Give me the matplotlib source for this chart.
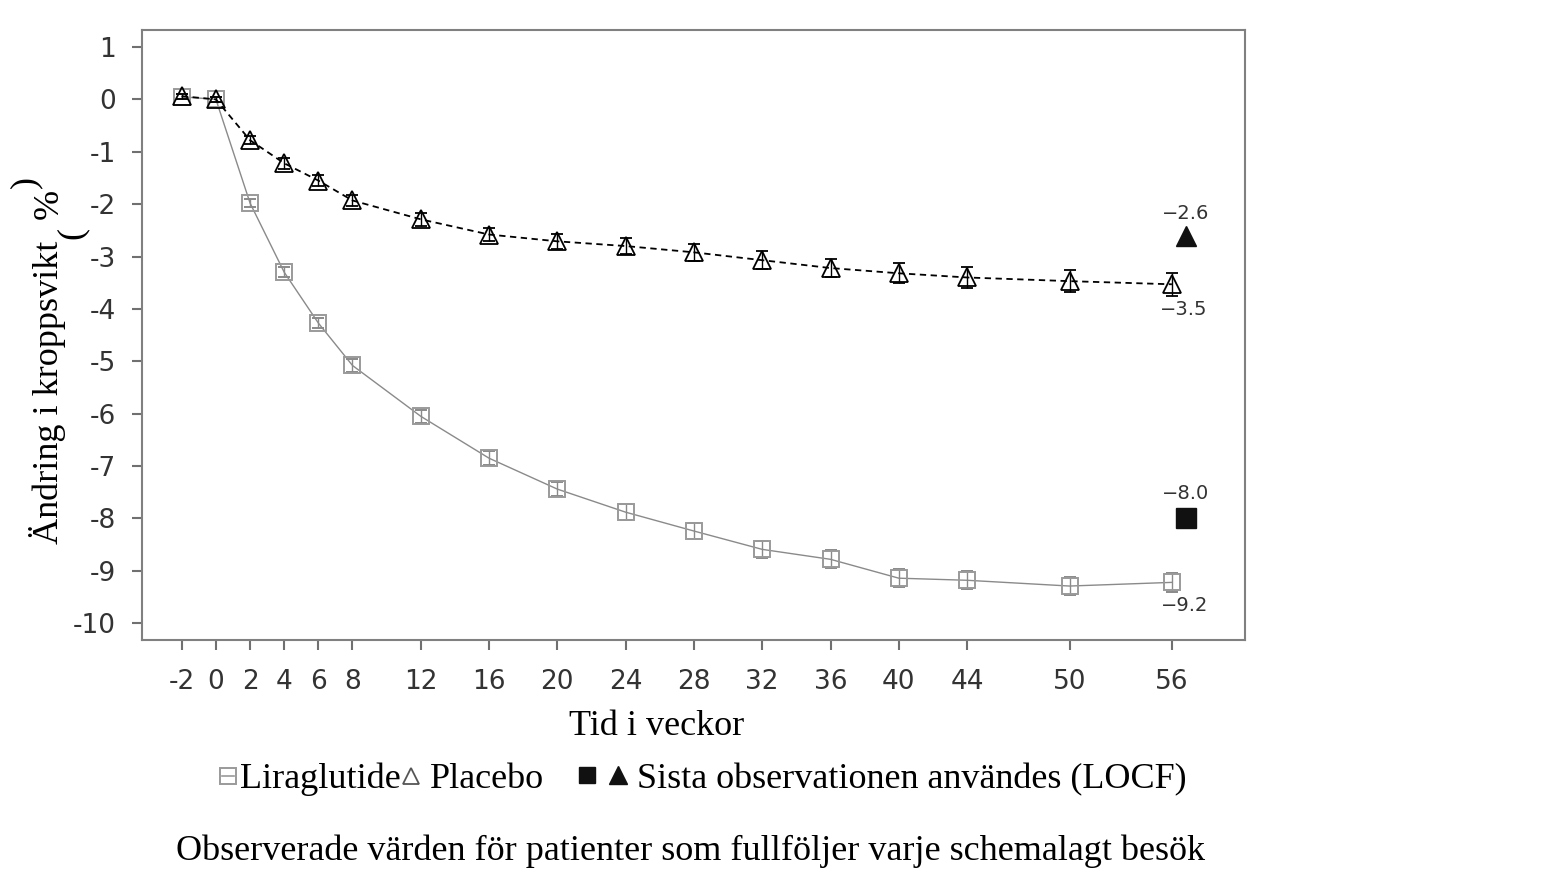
import matplotlib
matplotlib.use("Agg")
import matplotlib.pyplot as plt
from matplotlib.lines import Line2D

# ---------------- data ----------------
weeks = [-2, 0, 2, 4, 6, 8, 12, 16, 20, 24, 28, 32, 36, 40, 44, 50, 56]
tick_labels = ["-2", "0", "2", "4", "6", "8", "12", "16", "20", "24", "28",
               "32", "36", "40", "44", "50", "56"]
liraglutide = [0.05, 0.0, -1.98, -3.30, -4.27, -5.08, -6.05, -6.85, -7.44,
               -7.88, -8.24, -8.59, -8.78, -9.14, -9.18, -9.29, -9.22]
lira_err = [0.05, 0.05, 0.08, 0.10, 0.10, 0.12, 0.12, 0.13, 0.14, 0.15,
            0.15, 0.16, 0.17, 0.17, 0.17, 0.18, 0.18]
placebo = [0.06, 0.0, -0.78, -1.22, -1.55, -1.93, -2.29, -2.58, -2.71,
           -2.80, -2.92, -3.07, -3.22, -3.32, -3.40, -3.47, -3.53]
plac_err = [0.05, 0.05, 0.08, 0.10, 0.10, 0.11, 0.12, 0.13, 0.14, 0.15,
            0.16, 0.17, 0.18, 0.19, 0.20, 0.21, 0.22]
locf_week = 56.8
locf_lira = -8.0
locf_plac = -2.6
end_labels = {"lira_obs": "\u22129.2", "plac_obs": "\u22123.5",
              "lira_locf": "\u22128.0", "plac_locf": "\u22122.6"}
ytick_vals = list(range(1, -11, -1))
ytick_labels = [str(v) for v in ytick_vals]

# ---------------- figure ----------------
W, H = 1545, 893
fig = plt.figure(figsize=(W / 100, H / 100), dpi=100)
fig.patch.set_facecolor("white")


def P(x, y):
    return (x / W, 1 - y / H)


ax = fig.add_axes([142 / W, 1 - 640 / H, (1245 - 142) / W, (640 - 30) / H])
ax.set_xlim(-4.33, 60.28)
ax.set_ylim(-10.32, 1.324)

grey = "#9a9a9a"
ax.errorbar(weeks, liraglutide, yerr=lira_err, fmt="-", color="#8a8a8a", lw=1.0,
            marker="s", ms=12, mfc="none", mec=grey, mew=1.4,
            ecolor="#8a8a8a", elinewidth=1.0, capsize=4, capthick=1.0, zorder=3)
ax.errorbar(weeks, placebo, yerr=plac_err, fmt="-", color="black", lw=1.3,
            linestyle=(0, (3.5, 2.5)), marker="^", ms=13, mfc="none",
            mec="black", mew=1.3, ecolor="black", elinewidth=1.0, capsize=4,
            capthick=1.0, zorder=4)
ax.plot([locf_week], [locf_lira], marker="s", ms=15, color="#111111",
        linestyle="none", zorder=5)
ax.plot([locf_week], [locf_plac], marker="^", ms=15, color="#111111",
        linestyle="none", zorder=5)

lab_kw = dict(fontsize=14, color="#333333", ha="center", va="center",
              textcoords="offset points", family="DejaVu Sans")
ax.annotate(end_labels["plac_locf"], (locf_week, locf_plac), xytext=(0, 16), **lab_kw)
ax.annotate(end_labels["lira_locf"], (locf_week, locf_lira), xytext=(0, 18), **lab_kw)
ax.annotate(end_labels["plac_obs"], (locf_week, placebo[-1]), xytext=(-1, -18), **lab_kw)
ax.annotate(end_labels["lira_obs"], (locf_week, liraglutide[-1]), xytext=(-1, -17), **lab_kw)

ax.set_xticks(weeks)
ax.set_xticklabels(tick_labels)
ax.set_yticks(ytick_vals)
ax.set_yticklabels(ytick_labels)
ax.tick_params(axis="both", direction="out", length=7, width=1.5,
               color="#707070", labelsize=19, labelcolor="#333333")
ax.tick_params(axis="x", pad=14)
ax.tick_params(axis="y", pad=12)
for lbl in ax.get_xticklabels() + ax.get_yticklabels():
    lbl.set_family("DejaVu Sans")
for sp in ax.spines.values():
    sp.set_color("#808080")
    sp.set_linewidth(1.5)

serif = "Liberation Serif"
fs = 26

# y label (with the oddly placed parentheses of the original)
ykw = dict(rotation=90, rotation_mode="anchor", fontsize=fs, family=serif,
           color="black", va="baseline")
fig.text(*P(58, 241), "Ändring i kroppsvikt", ha="right", **ykw)
fig.text(*P(81, 239), "(", ha="left", **ykw)
fig.text(*P(58, 219), "%", ha="left", **ykw)
fig.text(*P(34, 188), ")", ha="left", **ykw)

# x label
fig.text(*P(657, 735), "Tid i veckor", ha="center", va="baseline",
         fontsize=fs, family=serif)

# legend row
fig.text(*P(240, 788), "Liraglutide", ha="left", va="baseline", fontsize=fs, family=serif)
fig.text(*P(430, 788), "Placebo", ha="left", va="baseline", fontsize=fs, family=serif)
fig.text(*P(637, 788), "Sista observationen användes (LOCF)", ha="left",
         va="baseline", fontsize=fs, family=serif)
leg_handles = [
    Line2D([P(228, 776)[0]], [P(228, 776)[1]], marker="s", ms=11, mfc="none",
           mec=grey, mew=1.4, transform=fig.transFigure),
    Line2D([P(222, 776)[0], P(234, 776)[0]], [P(0, 776)[1]] * 2, color=grey,
           lw=1.2, transform=fig.transFigure),
    Line2D([P(411, 776)[0]], [P(411, 776)[1]], marker="^", ms=11, mfc="none",
           mec="#555555", mew=1.3, transform=fig.transFigure),
    Line2D([P(587, 775)[0]], [P(587, 775)[1]], marker="s", ms=12,
           color="#111111", transform=fig.transFigure),
    Line2D([P(618, 775)[0]], [P(618, 775)[1]], marker="^", ms=13,
           color="#111111", transform=fig.transFigure),
]
for h in leg_handles:
    fig.add_artist(h)

# caption
fig.text(*P(690, 860), "Observerade värden för patienter som fullföljer varje schemalagt besök",
         ha="center", va="baseline", fontsize=fs, family=serif)

fig.savefig("out.png", dpi=100, facecolor="white")
